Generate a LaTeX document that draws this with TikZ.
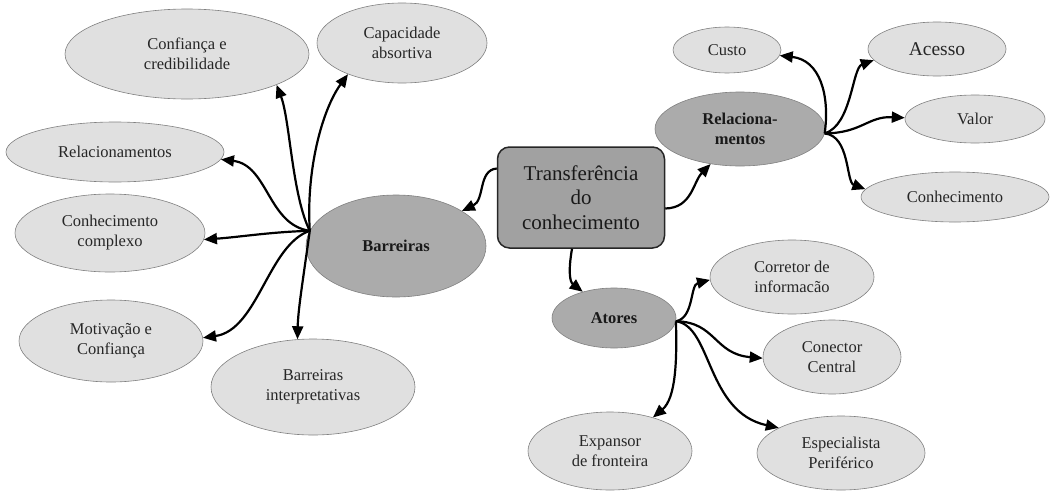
\documentclass[tikz,border=0pt]{standalone}
\usepackage{fontspec}
\setmainfont{Liberation Serif}
\usetikzlibrary{shapes.geometric,arrows.meta}
\begin{document}
\begin{tikzpicture}[x=1pt,y=-1pt,
  leaf/.style={ellipse,draw=black!50,line width=0.6pt,fill=black!12,text=black!85,
    inner sep=0pt,align=center,font=\fontsize{16.5}{20}\selectfont},
  hub/.style={ellipse,draw=black!50,line width=0.6pt,fill=black!33,text=black!90,
    inner sep=0pt,align=center,font=\fontsize{16.5}{20}\selectfont\bfseries},
  arr/.style={line width=2.2pt,-{Triangle[length=13pt,width=11pt]}}]
\useasboundingbox (0,0) rectangle (1052,490);
% nodes
\node[leaf,minimum width=244pt,minimum height=90pt] (conf) at (187,54) {Confiança e\\credibilidade};
\node[leaf,minimum width=170pt,minimum height=80pt] (cap) at (402,43) {Capacidade\\absortiva};
\node[leaf,minimum width=218pt,minimum height=60pt] (rel1) at (115,152) {Relacionamentos};
\node[leaf,minimum width=190pt,minimum height=78pt] (cc) at (110,233) {Conhecimento\\complexo};
\node[leaf,minimum width=184pt,minimum height=82pt] (mot) at (111,341) {Motivação e\\Confiança};
\node[leaf,minimum width=204pt,minimum height=96pt] (bi) at (313,387) {Barreiras\\interpretativas};
\node[hub,minimum width=180pt,minimum height=102pt] (bar) at (396,246) {Barreiras};
\node[rectangle,rounded corners=12pt,draw=black!85,line width=1.5pt,fill=black!37,text=black!90,
  minimum width=167pt,minimum height=101pt,align=center,
  font=\fontsize{21}{24.5}\selectfont] (tb) at (581,197.5) {Transferência\\do\\conhecimento};
\node[hub,minimum width=170pt,minimum height=74pt] (rel) at (740,129) {Relaciona-\\mentos};
\node[leaf,minimum width=108pt,minimum height=46pt] (custo) at (727,50) {Custo};
\node[leaf,minimum width=138pt,minimum height=54pt,font=\fontsize{19.5}{23}\selectfont] (acesso) at (937,49) {Acesso};
\node[leaf,minimum width=140pt,minimum height=48pt] (valor) at (975,119) {Valor};
\node[leaf,minimum width=188pt,minimum height=50pt] (conh) at (955,197) {Conhecimento};
\node[hub,minimum width=124pt,minimum height=60pt] (atores) at (614,318) {Atores};
\node[leaf,minimum width=164pt,minimum height=74pt] (corr) at (792,277) {Corretor de\\informacão};
\node[leaf,minimum width=138pt,minimum height=74pt] (conn) at (832,357) {Conector\\Central};
\node[leaf,minimum width=164pt,minimum height=78pt] (exp) at (610,451) {Expansor\\de fronteira};
\node[leaf,minimum width=168pt,minimum height=74pt] (esp) at (841,453) {Especialista\\Periférico};
% connectors from the central box
\draw[arr] ([yshift=29pt]tb.west) .. controls (478,170) and (485,200) .. (bar.28);
\draw[arr] ([yshift=-11pt]tb.east) .. controls (692,208) and (693,182) .. (rel.-130);
\draw[arr] ([xshift=-9pt]tb.south) .. controls (568,272) and (570,282) .. (atores.140);
% Barreiras
\draw[arr] (bar.170) .. controls (292,195) and (290,120) .. (conf.-19);
\draw[arr] (bar.170) .. controls (306,170) and (322,110) .. (cap.-150);
\draw[arr] (bar.170) .. controls (268,225) and (268,165) .. (rel1.-4);
\draw[arr] (bar.170) .. controls (270,232) and (240,237) .. (cc.-4);
\draw[arr] (bar.170) .. controls (268,245) and (258,330) .. (mot.2);
\draw[arr] (bar.170) .. controls (303,280) and (298,310) .. (bi.108);
% Relacionamentos
\draw[arr] (rel.-3) .. controls (830,95) and (820,60) .. (custo.-6);
\draw[arr] (rel.-3) .. controls (852,125) and (852,68) .. (acesso.-170);
\draw[arr] (rel.-3) .. controls (862,133) and (868,116) .. (valor.179);
\draw[arr] (rel.-3) .. controls (850,136) and (846,182) .. (conh.175);
% Atores
\draw[arr] (atores.-3) .. controls (694,318) and (690,285) .. (corr.182);
\draw[arr] (atores.-3) .. controls (716,322) and (714,354) .. (conn.181);
\draw[arr] (atores.-3) .. controls (712,326) and (706,412) .. (esp.158);
\draw[arr] (atores.-3) .. controls (677,360) and (676,398) .. (exp.38);
\end{tikzpicture}
\end{document}
